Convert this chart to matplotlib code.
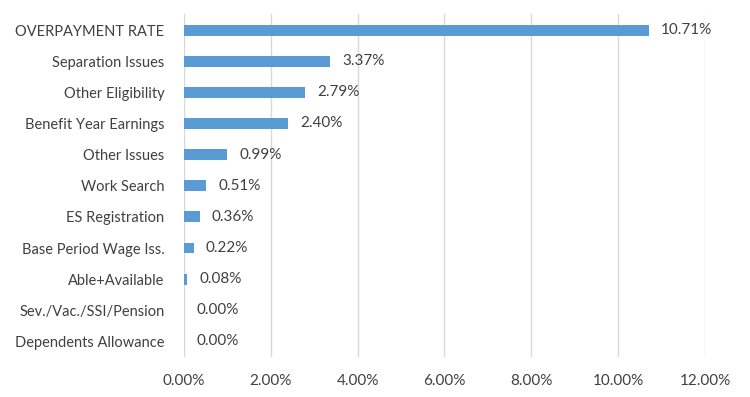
import matplotlib.pyplot as plt
from matplotlib.ticker import FuncFormatter

categories = ['OVERPAYMENT RATE', 'Separation Issues', 'Other Eligibility',
              'Benefit Year Earnings', 'Other Issues', 'Work Search',
              'ES Registration', 'Base Period Wage Iss.', 'Able+Available',
              'Sev./Vac./SSI/Pension', 'Dependents Allowance']
values = [10.71, 3.37, 2.79, 2.40, 0.99, 0.51, 0.36, 0.22, 0.08, 0.00, 0.00]
xticks = [0, 2, 4, 6, 8, 10, 12]

plt.rcParams['font.family'] = ['Lato', 'DejaVu Sans']
text_color = '#404040'

fig = plt.figure(figsize=(7.5, 3.97), dpi=100)
ax = fig.add_axes([0.2453, 0.1008, 0.6947, 0.8627])

pos = list(range(len(categories)))
ax.barh(pos, values, height=0.35, color='#5B9BD5', zorder=3)
for p, v in zip(pos, values):
    ax.text(v + 0.28, p, '%.2f%%' % v, va='center', ha='left',
            fontsize=11, color=text_color)

ax.set_yticks(pos)
ax.set_yticklabels(categories, fontsize=10.5, color=text_color)
ax.set_ylim(len(categories) - 0.5, -0.5)
ax.set_xlim(0, 12)
ax.set_xticks(xticks)
ax.xaxis.set_major_formatter(FuncFormatter(lambda x, _: '%.2f%%' % x))
ax.tick_params(axis='x', labelsize=11, colors=text_color, length=0, pad=12)
ax.tick_params(axis='y', length=0, pad=14)
ax.grid(axis='x', color='#D9D9D9', linewidth=1, zorder=0)
for s in ax.spines.values():
    s.set_visible(False)

fig.savefig('out.png', dpi=100)
